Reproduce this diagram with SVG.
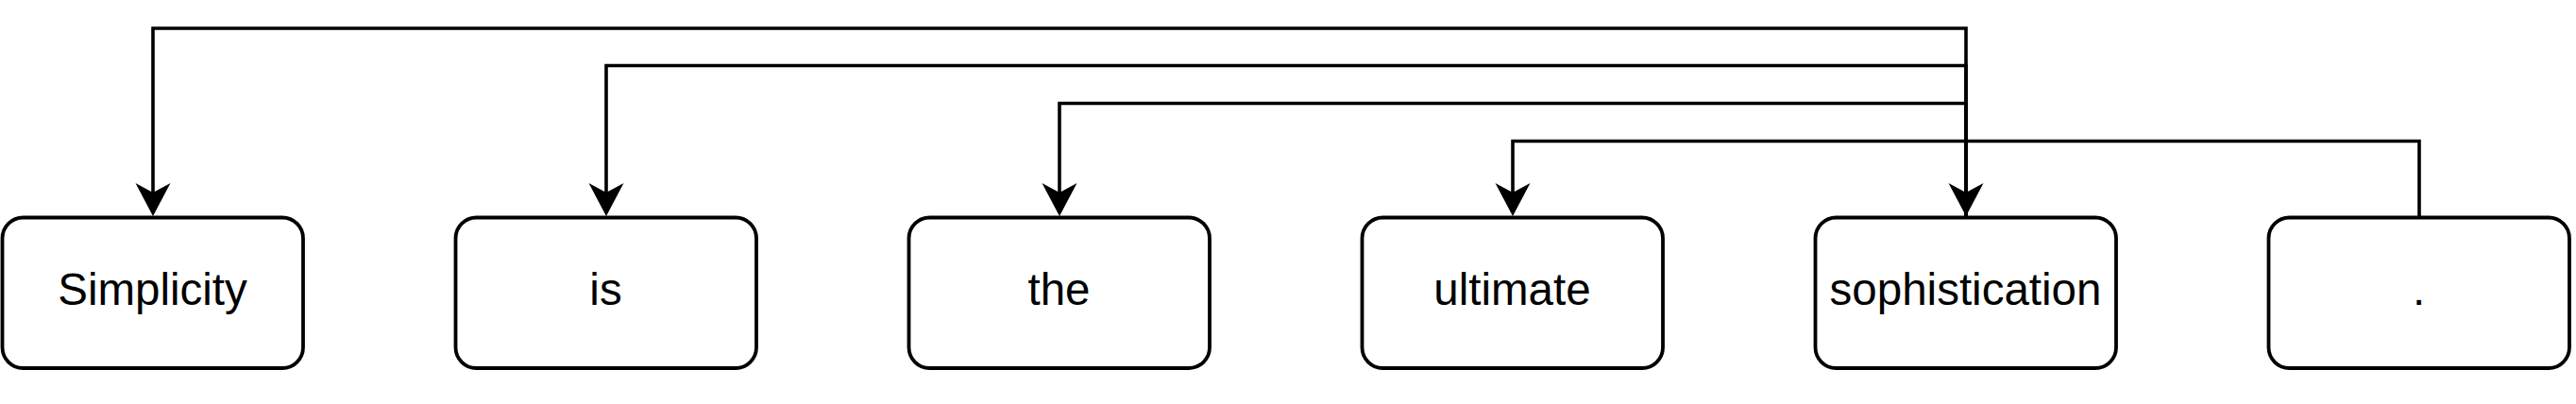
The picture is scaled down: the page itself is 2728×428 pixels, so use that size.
<svg xmlns="http://www.w3.org/2000/svg" width="2728" height="428" viewBox="0 0 2728 428">
<style>
.node rect{fill:#fff;stroke:#000;stroke-width:3.8}
.node text{font-family:"Liberation Sans",Arial,sans-serif;font-size:47.5px;fill:#000;text-anchor:middle}
.edge{fill:none;stroke:#000;stroke-width:3.6;stroke-linejoin:miter}
</style>
<defs>
<marker id="arr" markerUnits="userSpaceOnUse" markerWidth="40" markerHeight="40" refX="10" refY="18.5" orient="auto" overflow="visible">
<path d="M35,18.5 L0,0 L10,18.5 L0,37 Z" fill="#000"/>
</marker>
</defs>
<g id="connectors">
<path class="edge" d="M2082,229 V30 H162 V204" marker-end="url(#arr)"/>
<path class="edge" d="M2082,229 V69.5 H642 V204" marker-end="url(#arr)"/>
<path class="edge" d="M2082,229 V109.5 H1122 V204" marker-end="url(#arr)"/>
<path class="edge" d="M2082,229 V149.5 H1602 V204" marker-end="url(#arr)"/>
<path class="edge" d="M2562,229 V149.5 H2082 V204" marker-end="url(#arr)"/>
</g>
<g id="n-simplicity" class="node"><rect x="2.5" y="230.5" width="318.5" height="159.5" rx="22"/><text x="161.5" y="323">Simplicity</text></g>
<g id="n-is" class="node"><rect x="482.5" y="230.5" width="318.5" height="159.5" rx="22"/><text x="641.5" y="323">is</text></g>
<g id="n-the" class="node"><rect x="962.5" y="230.5" width="318.5" height="159.5" rx="22"/><text x="1121.5" y="323">the</text></g>
<g id="n-ultimate" class="node"><rect x="1442.5" y="230.5" width="318.5" height="159.5" rx="22"/><text x="1601.5" y="323">ultimate</text></g>
<g id="n-sophistication" class="node"><rect x="1922.5" y="230.5" width="318.5" height="159.5" rx="22"/><text x="2081.5" y="323">sophistication</text></g>
<g id="n-period" class="node"><rect x="2402.5" y="230.5" width="318.5" height="159.5" rx="22"/><text x="2561.5" y="323">.</text></g>
</svg>
